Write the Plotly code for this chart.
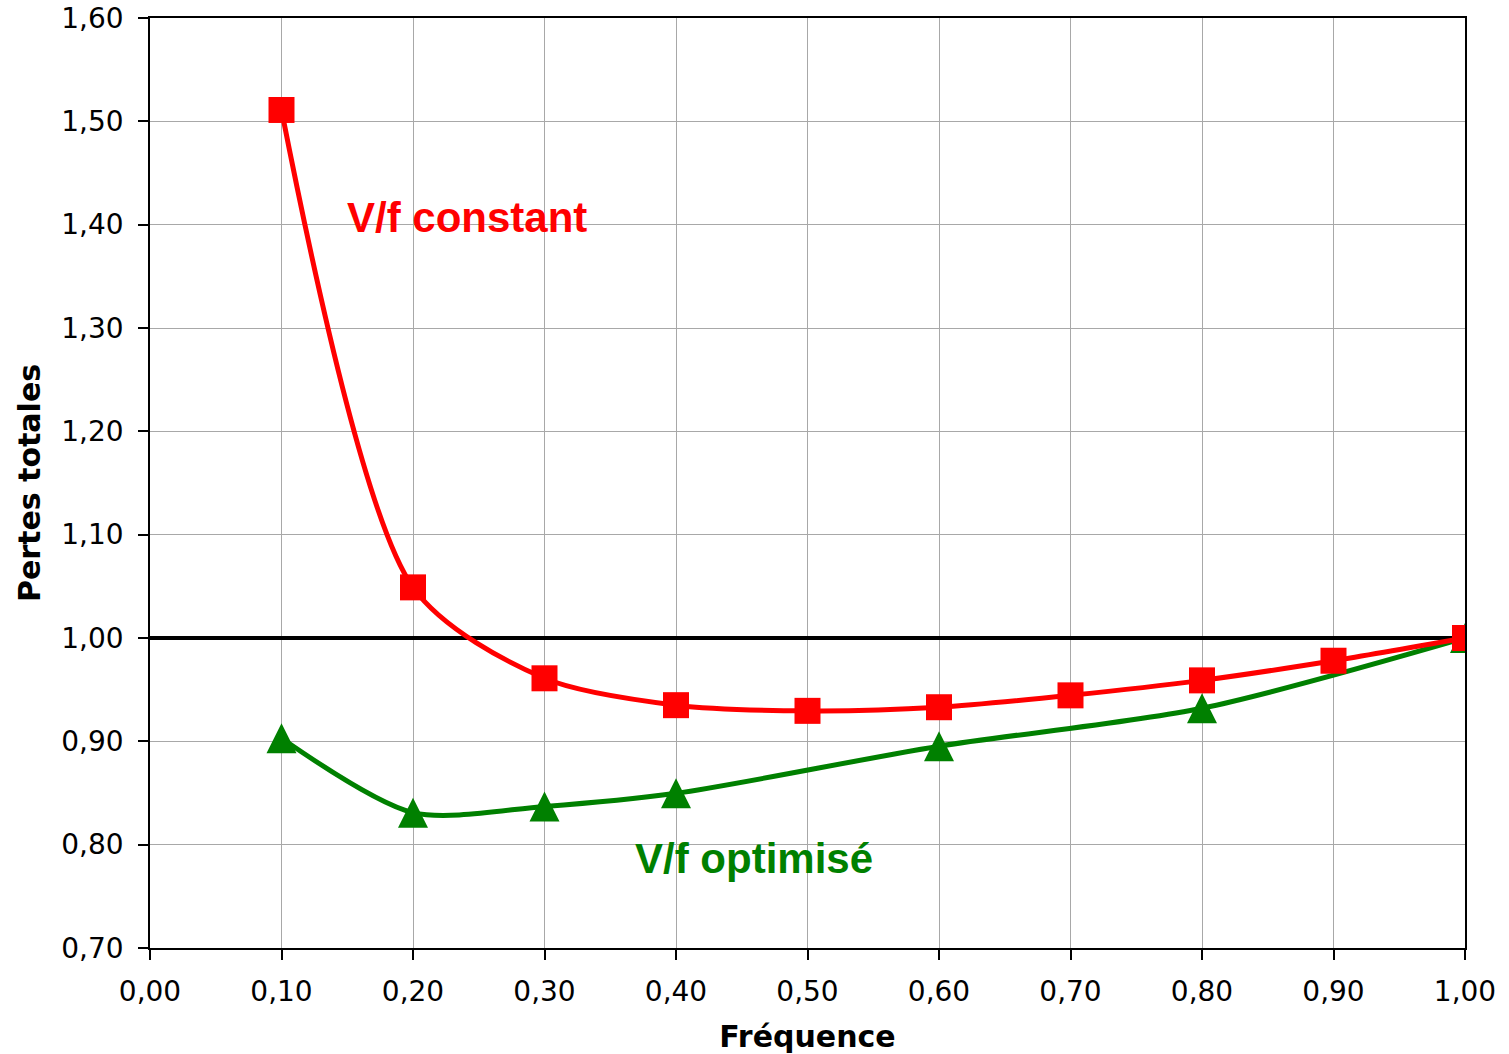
import plotly.graph_objects as go

# Normalised frequency (per-unit)
freq_const = [0.1, 0.2, 0.3, 0.4, 0.5, 0.6, 0.7, 0.8, 0.9, 1.0]
loss_const = [1.511, 1.049, 0.961, 0.935, 0.9295, 0.933, 0.9445, 0.959, 0.978, 1.000]

freq_opt = [0.1, 0.2, 0.3, 0.4, 0.6, 0.8, 1.0]
loss_opt = [0.903, 0.831, 0.837, 0.8497, 0.8953, 0.932, 1.000]

# Reference level: nominal losses at rated frequency
ref_x = [0.0, 1.0]
ref_y = [1.0, 1.0]

x_ticks = [0.0, 0.1, 0.2, 0.3, 0.4, 0.5, 0.6, 0.7, 0.8, 0.9, 1.0]
x_labels = ["0,00", "0,10", "0,20", "0,30", "0,40", "0,50", "0,60", "0,70", "0,80", "0,90", "1,00"]
y_ticks = [0.7, 0.8, 0.9, 1.0, 1.1, 1.2, 1.3, 1.4, 1.5, 1.6]
y_labels = ["0,70", "0,80", "0,90", "1,00", "1,10", "1,20", "1,30", "1,40", "1,50", "1,60"]

RED = "#ff0000"
GREEN = "#008000"

fig = go.Figure()

fig.add_trace(go.Scatter(
    x=ref_x, y=ref_y, mode="lines",
    line=dict(color="black", width=4),
    showlegend=False, hoverinfo="skip",
))

fig.add_trace(go.Scatter(
    x=freq_opt, y=loss_opt, mode="lines+markers",
    line=dict(color=GREEN, width=5, shape="spline", smoothing=0.8),
    marker=dict(symbol="arrow-down", angle=180, standoff=15, size=30, color=GREEN),
    name="V/f optimisé", showlegend=False,
))

fig.add_trace(go.Scatter(
    x=freq_const, y=loss_const, mode="lines+markers",
    line=dict(color=RED, width=5, shape="spline", smoothing=0.8),
    marker=dict(symbol="square", size=26, color=RED),
    name="V/f constant", showlegend=False,
))

fig.add_annotation(
    x=0.1483, y=1.407, xref="x", yref="y", text="<b>V/f constant</b>",
    showarrow=False, xanchor="left", yanchor="middle",
    font=dict(family="Liberation Sans, Arial, sans-serif", size=42, color=RED),
)
fig.add_annotation(
    x=0.3673, y=0.787, xref="x", yref="y", text="<b>V/f optimisé</b>",
    showarrow=False, xanchor="left", yanchor="middle",
    font=dict(family="Liberation Sans, Arial, sans-serif", size=42, color=GREEN),
)

axis_common = dict(
    showline=True, linecolor="black", linewidth=1.5, mirror=True,
    showgrid=True, gridcolor="#a8a8a8", gridwidth=1,
    ticks="outside", ticklen=10, tickwidth=1.5, tickcolor="black",
    zeroline=False, automargin=False,
    tickfont=dict(family="DejaVu Sans, Verdana, sans-serif", size=28, color="black"),
)

fig.update_xaxes(
    range=[0, 1], tickvals=x_ticks, ticktext=x_labels,
    ticklabelstandoff=8,
    title=dict(text="<b>Fréquence</b>", standoff=19,
               font=dict(family="DejaVu Sans, Verdana, sans-serif", size=30, color="black")),
    **axis_common,
)
fig.update_yaxes(
    range=[0.7, 1.6], tickvals=y_ticks, ticktext=y_labels,
    ticklabelstandoff=9,
    title=dict(text="<b>Pertes totales</b>", standoff=12,
               font=dict(family="DejaVu Sans, Verdana, sans-serif", size=30, color="black")),
    **axis_common,
)

fig.update_layout(
    width=1509, height=1054,
    margin=dict(l=150, r=44, t=18, b=106),
    paper_bgcolor="white", plot_bgcolor="white",
)

fig.write_html("out.html")
